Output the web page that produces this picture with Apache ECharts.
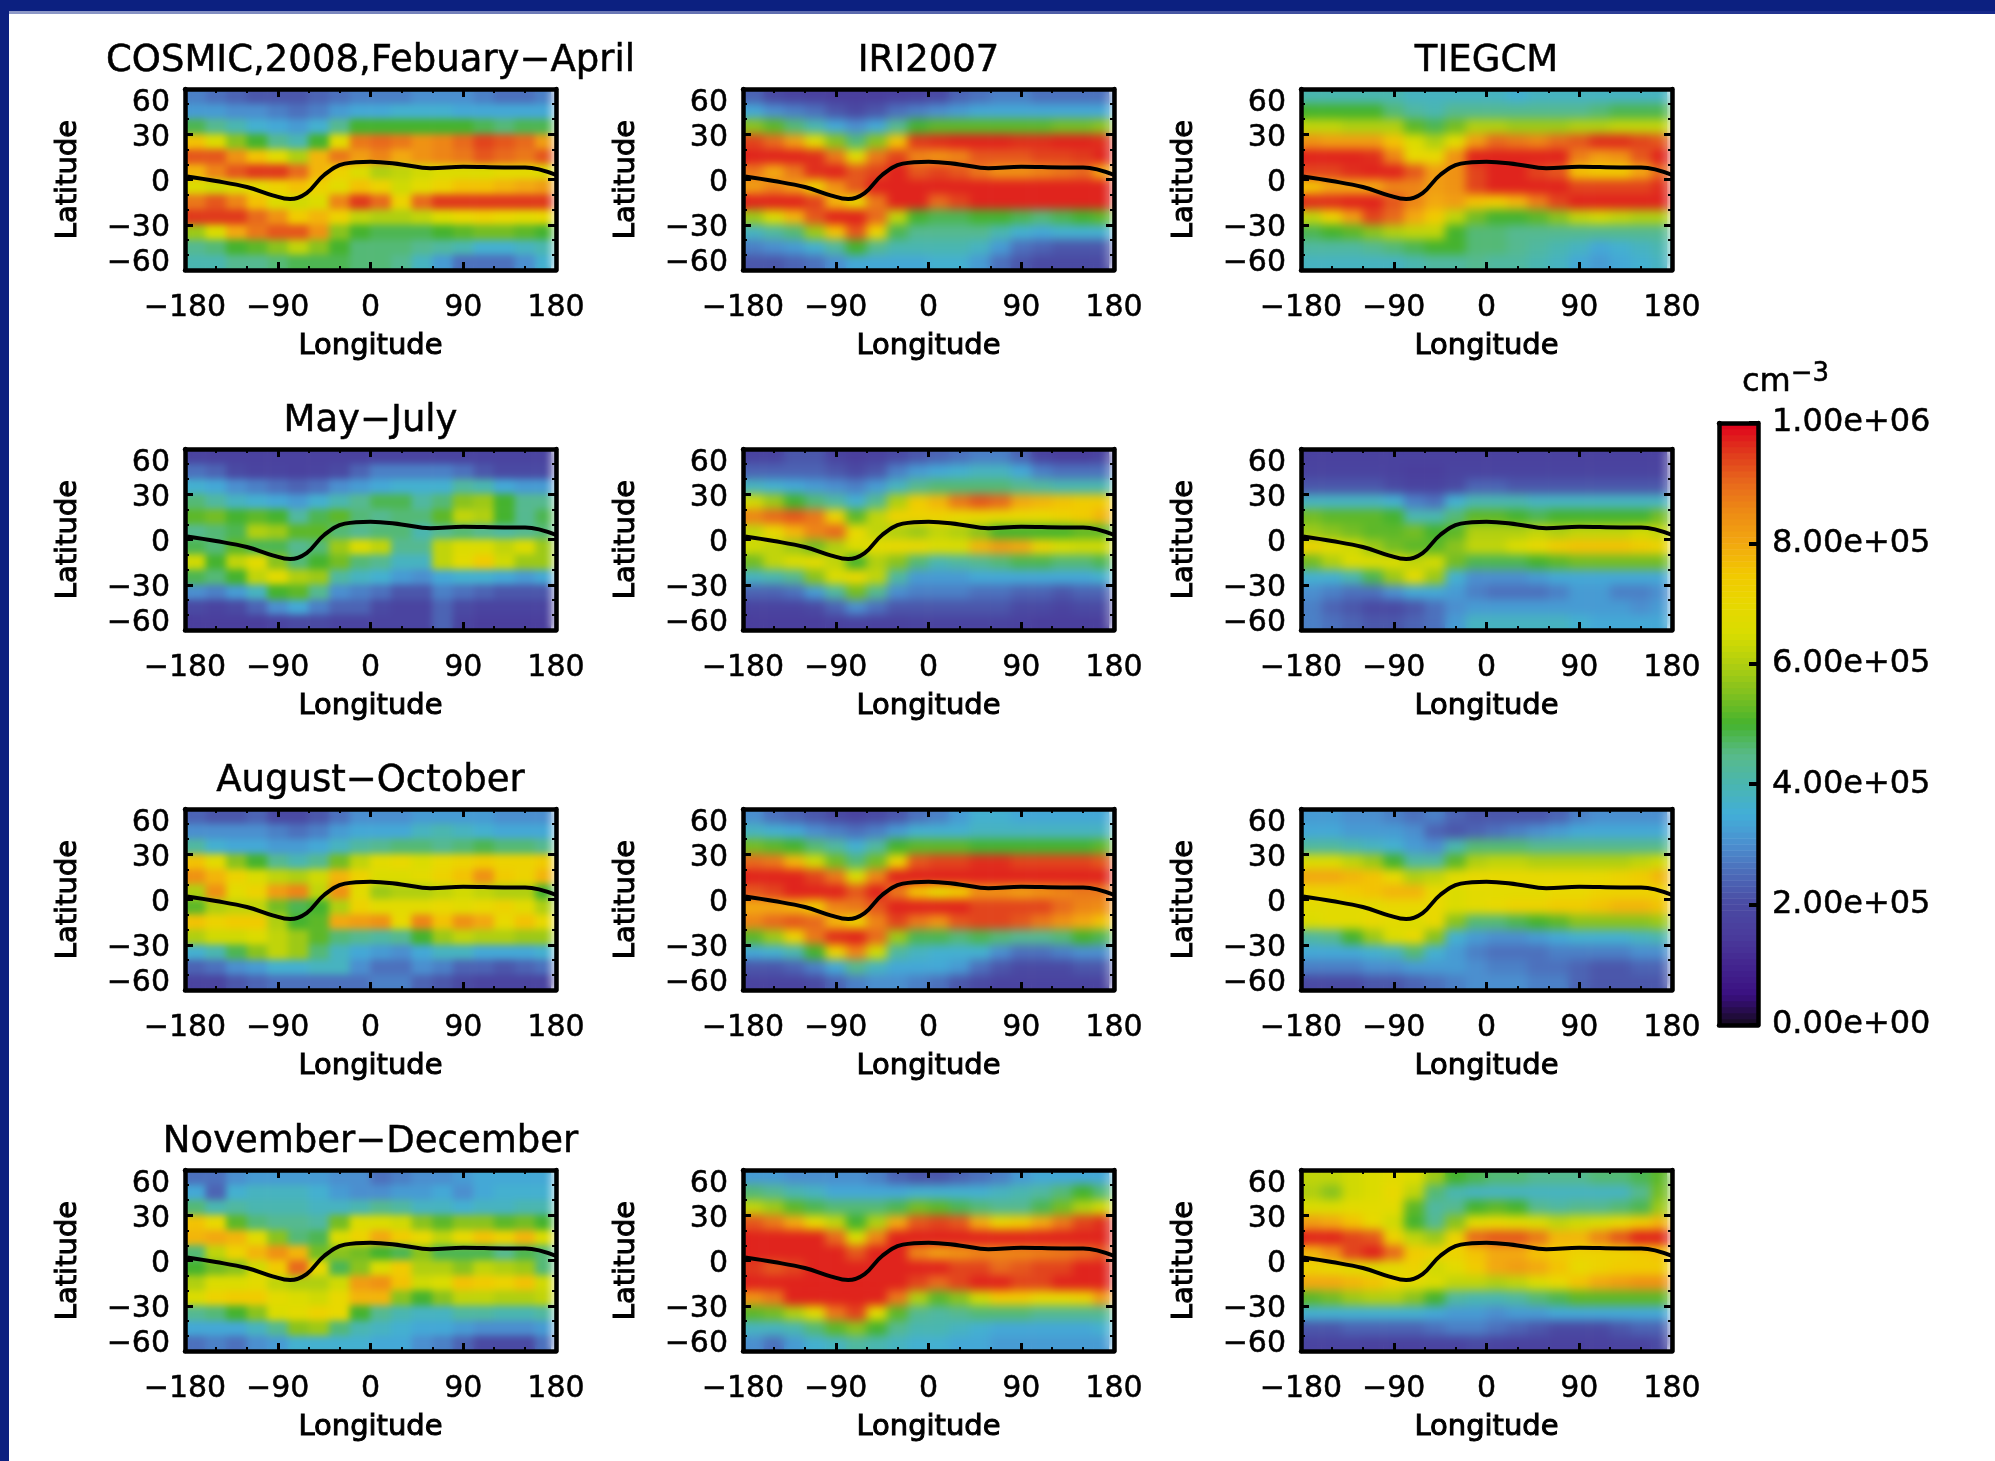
<!DOCTYPE html>
<html><head><meta charset="utf-8">
<style>html,body{margin:0;padding:0;background:#fff}#c{width:1995px;height:1461px}</style>
<script src="https://cdn.jsdelivr.net/npm/echarts@6/dist/echarts.min.js"></script>
</head><body><div id="c"></div>
<script>
// Electron density in units of 1e4 cm^-3. Rows run from lat 55 to lat -55, columns from lon -170 to 170.
const longitudes = [-170,-150,-130,-110,-90,-70,-50,-30,-10,10,30,50,70,90,110,130,150,170];
const latitudes = [55,45,35,25,15,5,-5,-15,-25,-35,-45,-55];
const colorbarLabels = ['0.00e+00','2.00e+05','4.00e+05','6.00e+05','8.00e+05','1.00e+06'];
const columnTitles = ['','IRI2007','TIEGCM'];
const rowTitles = ['COSMIC,2008,Febuary\u2212April','May\u2212July','August\u2212October','November\u2212December'];

const dipLon = [-178,-150,-120,-95,-78,-62,-45,-25,0,30,58,90,130,150,180];
const dipLat = [2,-1,-5,-10.5,-13,-9,3,10.5,11.8,10,7.5,8.5,8,8,3];

const cosmicFeb = [
[28,26,24,22,22,22,24,26,28,28,28,30,30,30,28,26,26,28],
[32,32,30,30,28,26,28,32,34,34,36,36,36,34,34,34,34,34],
[48,44,40,36,34,32,36,44,50,50,50,50,50,50,48,46,48,48],
[76,66,56,50,44,40,50,68,88,90,88,84,86,90,94,92,90,82],
[92,92,84,76,68,60,78,88,82,86,80,84,86,88,92,90,88,92],
[78,86,92,95,95,90,78,72,66,60,62,64,66,66,66,68,68,66],
[66,64,66,68,72,76,72,68,76,72,64,68,72,76,76,78,80,82],
[88,92,86,76,66,64,66,86,95,90,72,90,95,95,95,95,95,95],
[95,95,95,90,84,74,78,72,62,60,60,62,66,70,72,70,68,70],
[58,66,80,88,92,92,84,56,50,48,48,48,50,52,54,54,52,50],
[44,46,50,52,56,62,56,50,46,46,46,44,42,40,36,36,38,40],
[40,40,44,44,46,48,48,48,46,46,44,38,32,26,26,26,30,36]];
const iriFeb = [
[24,20,18,17,16,16,16,17,18,20,24,26,28,28,26,26,26,26],
[34,30,28,26,22,20,22,26,28,30,32,34,34,34,34,34,34,34],
[56,52,46,40,34,30,34,44,50,52,52,52,52,52,52,54,54,56],
[94,90,82,68,56,46,56,76,95,96,97,97,97,96,96,97,97,96],
[97,97,97,96,88,68,88,94,86,84,86,92,92,92,94,94,95,97],
[88,80,88,96,97,92,94,97,92,94,92,88,84,84,86,88,90,80],
[82,86,82,72,84,92,97,97,97,97,97,97,97,97,97,97,97,97],
[97,97,97,94,78,70,88,97,97,90,94,97,97,97,97,97,97,97],
[58,66,78,92,97,97,90,62,50,48,48,50,50,48,46,48,50,52],
[38,42,46,58,76,92,72,48,44,44,44,44,40,36,34,36,36,36],
[28,30,32,36,42,50,44,40,40,40,40,38,32,26,24,22,22,22],
[22,22,24,26,30,34,34,34,34,36,36,32,26,22,20,20,20,20]];
const tiegcmFeb = [
[40,40,40,40,40,38,38,38,38,38,36,38,38,38,38,38,38,38],
[50,50,50,50,46,42,40,44,44,44,44,44,44,44,46,48,48,48],
[62,62,60,60,60,52,48,54,60,60,58,58,58,60,60,62,62,62],
[84,82,82,82,76,66,60,68,82,90,88,86,90,92,96,96,94,92],
[97,97,97,96,86,70,70,84,97,97,97,97,97,87,82,84,92,97],
[94,94,96,97,97,92,82,84,94,97,97,94,92,76,74,74,80,90],
[76,80,80,80,86,86,82,84,94,97,97,97,97,94,94,94,94,96],
[96,96,97,97,92,86,80,82,76,74,78,87,94,97,97,97,97,97],
[62,72,82,94,90,80,74,62,54,50,50,52,56,62,64,62,60,60],
[48,50,52,56,60,62,62,50,46,46,44,44,44,44,44,44,44,44],
[42,42,42,44,46,48,50,50,46,46,44,42,40,38,34,36,38,40],
[38,38,38,38,38,40,42,42,44,42,42,40,38,34,32,34,36,38]];
const cosmicMay = [
[18,17,17,17,17,17,17,17,17,18,18,18,18,18,18,18,18,18],
[26,24,20,18,18,17,18,20,24,28,28,28,28,26,22,20,20,20],
[36,34,30,28,26,24,26,30,32,34,36,36,36,42,40,34,32,32],
[46,42,38,36,34,32,36,40,44,48,48,42,46,56,58,50,44,44],
[52,54,50,52,50,42,48,52,46,44,46,46,52,62,60,50,44,48],
[44,46,48,60,58,52,52,46,44,46,46,40,44,46,44,42,44,46],
[48,46,52,48,48,44,46,58,66,62,44,44,62,66,66,62,66,58],
[64,50,62,68,56,46,50,54,46,44,38,38,62,68,74,64,58,58],
[48,46,50,62,68,60,58,42,38,36,32,30,34,36,36,34,32,34],
[30,28,32,38,50,52,44,30,28,26,22,22,28,26,24,22,22,22],
[20,18,20,24,30,34,28,24,24,20,18,18,24,20,18,18,18,18],
[16,16,16,16,18,20,20,18,18,18,18,18,24,18,16,16,16,16]];
const iriMay = [
[18,18,22,22,18,16,17,20,22,24,26,28,28,24,18,16,16,18],
[24,24,24,24,22,20,22,28,32,34,36,38,38,34,28,26,26,26],
[38,36,34,32,30,28,32,38,44,46,46,46,46,44,42,40,40,40],
[64,58,50,46,42,36,44,60,74,78,88,92,90,80,78,76,74,74],
[86,90,92,88,72,52,62,72,72,72,70,70,70,70,70,72,74,78],
[62,70,78,86,90,70,62,60,58,62,60,56,50,50,50,50,52,52],
[64,62,58,54,60,66,68,70,70,66,66,78,82,80,72,66,64,64],
[54,62,66,68,62,50,60,56,46,40,42,44,46,48,48,46,46,48],
[38,40,44,56,66,70,62,42,32,32,32,34,34,34,34,34,34,36],
[24,24,26,32,42,54,44,30,28,28,28,26,26,24,24,22,24,24],
[18,18,18,20,24,30,26,22,22,22,22,22,22,20,20,18,20,20],
[16,16,16,16,17,18,17,17,18,18,18,18,18,17,16,16,16,16]];
const tiegcmMay = [
[17,17,17,17,17,17,17,17,17,17,17,17,17,17,17,17,17,17],
[18,18,18,18,17,16,16,18,18,18,18,18,18,18,18,18,18,18],
[22,22,22,22,20,18,18,20,24,24,22,22,22,22,22,22,22,22],
[38,38,38,38,36,28,26,36,40,40,40,38,38,38,38,38,38,38],
[54,52,52,52,50,40,40,46,52,52,50,48,50,50,50,50,50,54],
[58,56,54,52,52,54,50,52,60,60,60,62,60,62,62,62,64,62],
[72,68,64,58,54,52,52,56,62,62,66,70,74,76,76,76,74,72],
[54,60,66,66,66,62,64,54,48,48,48,50,52,54,54,54,54,54],
[36,36,40,48,58,68,58,36,30,30,30,32,34,34,34,34,34,34],
[30,28,26,26,30,34,34,32,28,26,26,26,28,32,32,28,28,30],
[28,24,22,20,20,22,26,30,32,32,32,32,32,32,32,32,30,32],
[28,26,24,22,22,24,26,32,38,38,38,38,38,36,34,34,34,34]];
const cosmicAug = [
[24,22,22,24,20,20,22,26,30,30,30,32,32,32,32,30,30,30],
[30,30,30,30,28,26,28,32,34,34,34,38,40,38,36,34,34,34],
[42,36,34,34,32,32,34,38,42,44,46,46,44,46,48,46,46,44],
[76,68,56,50,44,40,44,54,62,68,70,66,70,72,74,72,72,74],
[84,78,72,66,62,60,64,78,72,66,66,68,72,76,84,74,72,78],
[60,84,68,72,82,86,62,84,68,58,60,60,62,64,62,60,60,50],
[52,60,62,62,54,48,50,60,72,68,68,68,70,68,70,72,68,60],
[76,72,74,74,60,50,52,80,82,84,70,86,76,84,80,70,76,70],
[60,64,64,66,62,58,52,46,44,42,44,50,58,62,60,60,58,58],
[36,40,48,56,62,58,46,38,34,32,30,34,38,38,34,34,34,36],
[24,26,30,32,36,36,38,38,30,26,26,30,28,24,24,22,24,26],
[18,18,22,24,26,26,26,26,26,28,28,24,22,20,18,18,18,18]];
const iriAug = [
[30,26,24,22,20,18,20,22,26,28,32,36,36,34,34,34,34,34],
[38,36,34,30,28,26,28,32,36,36,36,38,38,38,38,38,38,38],
[54,52,50,46,42,36,42,50,52,52,52,50,50,50,50,50,50,52],
[90,88,78,64,54,46,54,72,92,94,94,96,96,94,94,94,94,92],
[97,97,97,94,88,66,86,97,97,97,97,97,97,97,97,97,97,97],
[92,94,97,97,97,92,97,88,76,70,74,84,84,82,84,86,88,88],
[80,80,78,74,86,88,92,97,97,97,97,94,94,94,94,90,86,85],
[86,90,92,90,78,72,86,94,88,84,92,94,94,92,88,84,80,76],
[52,58,72,88,96,97,90,58,48,48,46,48,46,44,44,46,50,48],
[34,36,40,50,72,86,64,42,38,36,36,36,30,26,26,28,30,30],
[22,22,24,28,34,44,38,34,34,34,32,26,22,20,20,20,22,22],
[18,18,18,20,24,28,30,30,28,26,22,20,18,18,18,18,18,18]];
const tiegcmAug = [
[32,32,30,30,28,26,28,24,22,22,22,22,24,28,30,30,30,30],
[34,34,32,32,32,30,24,22,24,26,28,30,32,34,34,34,34,34],
[42,42,40,38,36,32,30,40,46,46,46,44,44,44,44,44,44,44],
[66,66,62,58,50,42,42,52,60,62,62,60,60,60,60,60,62,64],
[80,80,78,76,70,60,62,68,70,70,70,70,70,70,70,72,74,78],
[72,72,74,76,78,78,70,66,68,68,68,68,70,70,72,72,72,72],
[68,68,68,68,70,70,70,66,68,70,72,72,74,74,76,78,78,76],
[66,68,68,70,68,66,70,56,46,46,48,50,52,56,56,56,56,58],
[42,44,50,58,66,70,56,36,32,30,30,32,34,36,36,36,38,40],
[34,34,34,36,38,46,36,32,28,26,26,26,28,28,28,28,30,30],
[28,28,28,30,30,32,32,32,30,28,28,26,26,24,22,22,24,24],
[20,20,20,22,22,24,26,28,30,30,30,28,28,24,22,22,22,22]];
const cosmicNov = [
[26,26,30,32,32,32,32,30,30,26,28,30,30,32,34,34,34,34],
[34,24,36,38,38,38,36,32,30,30,32,32,34,30,34,36,36,36],
[46,40,42,40,40,40,38,38,40,44,42,38,38,36,38,38,40,40],
[76,70,52,46,44,44,42,54,66,66,64,56,52,56,56,52,54,50],
[78,80,78,68,56,46,48,66,72,80,74,70,62,70,76,72,78,66],
[46,62,72,78,84,78,54,56,54,50,48,56,48,48,48,44,48,46],
[50,54,56,64,74,90,70,48,56,66,74,60,60,56,62,60,58,46],
[60,66,66,68,62,60,60,64,82,84,76,64,66,76,74,72,76,64],
[66,72,74,74,68,66,64,70,78,78,56,50,56,62,62,60,60,62],
[44,46,50,56,66,68,72,70,50,44,40,38,38,42,42,40,40,42],
[34,34,34,38,44,56,58,46,40,38,36,34,34,32,30,30,30,32],
[26,28,26,30,32,36,36,36,36,34,34,30,28,24,20,20,20,26]];
const iriNov = [
[32,32,30,30,30,30,28,24,22,22,24,26,28,32,34,34,34,34],
[46,44,40,38,34,34,34,34,36,36,36,36,38,40,42,46,50,46],
[62,58,52,48,46,46,46,48,54,52,48,46,44,44,48,54,60,64],
[92,88,80,70,62,50,60,80,92,94,92,80,72,74,80,88,94,96],
[97,97,97,97,90,66,86,97,97,97,97,97,97,97,97,97,97,97],
[97,97,97,97,97,92,97,97,86,82,84,86,86,86,87,88,90,92],
[95,92,94,97,97,97,97,97,97,97,94,94,90,92,94,94,97,97],
[97,97,97,97,97,97,97,97,94,90,94,97,97,94,94,97,97,97],
[84,88,97,97,97,97,97,88,60,52,56,64,74,74,70,70,72,82],
[52,54,60,68,88,94,68,52,44,42,44,46,46,46,44,44,44,44],
[38,38,40,46,52,56,50,44,40,40,38,36,34,34,34,34,34,36],
[30,26,32,36,38,42,40,38,36,36,34,34,32,32,32,32,32,32]];
const tiegcmNov = [
[62,62,64,66,68,66,58,50,48,46,46,44,44,44,46,46,48,52],
[60,56,64,66,70,62,46,40,38,38,38,38,38,38,38,38,44,54],
[66,66,68,68,68,52,42,44,50,52,50,44,42,44,44,46,48,58],
[82,80,76,70,64,50,44,56,68,70,68,66,62,64,66,70,74,78],
[97,97,94,92,72,62,58,72,90,92,92,88,78,78,86,92,97,97],
[78,84,94,97,90,74,72,72,76,80,80,76,74,72,72,72,74,76],
[72,70,68,66,68,72,64,68,74,80,82,80,76,70,72,74,74,74],
[80,80,78,76,72,68,66,62,62,60,62,66,70,76,80,82,84,84],
[52,54,58,60,60,56,50,42,40,40,42,46,48,52,52,52,52,52],
[36,36,36,36,36,36,34,32,32,30,32,32,34,34,34,34,34,34],
[22,22,24,24,24,24,26,28,28,26,24,22,20,20,20,22,24,24],
[18,18,18,17,17,17,18,18,20,18,17,17,17,17,17,18,18,20]];

const panels = [[cosmicFeb,iriFeb,tiegcmFeb],[cosmicMay,iriMay,tiegcmMay],[cosmicAug,iriAug,tiegcmAug],[cosmicNov,iriNov,tiegcmNov]];

// Colour scale, one stop per 0.5e5 from 0 to 1e6
const scaleColors = ['#150a1e','#3a1080','#43258f','#4a3c9c','#4a4aa3','#4c6ab8','#4b8fcf','#42aed8','#4ab6b0','#58ba88','#45b32e','#80c020','#b0cf10','#d8dc00','#e8d800','#f2c800','#f2a810','#ee8c14','#e86a1c','#e03a1c','#e0001c'];
const colorbarLevels = [];
for (let v = 0; v < 100; v++) colorbarLevels.push(v);

const FONT = '"DejaVu Sans"';
const colLeft = [185, 743, 1301], plotW = 371, rowTop = [89, 449, 809, 1170], plotH = 181;
const bar = {left: 1719, top: 423, width: 39, height: 602};
const grids = [], xAxes = [], yAxes = [], series = [], titles = [];
const inkThin = {textBorderColor: '#000', textBorderWidth: 0.5};
const inkBold = {textBorderColor: '#000', textBorderWidth: 1};
const tickText = v => String(v).replace('-', '\u2212');

function frameAxis(extra) {
  return Object.assign({
    type: 'value', axisLine: {onZero: false, lineStyle: {color: '#000', width: 4.5}},
    axisTick: {inside: true, length: 8, lineStyle: {color: '#000', width: 3}},
    minorTick: {show: true, splitNumber: 3, length: 4, lineStyle: {color: '#000', width: 2}},
    splitLine: {show: false}, minorSplitLine: {show: false}, zlevel: 1, z: 6
  }, extra);
}
panels.forEach((row, r) => row.forEach((values, c) => {
  const g = grids.length;
  grids.push({left: colLeft[c], top: rowTop[r], width: plotW, height: plotH, show: false});
  const xi = xAxes.length, yi = yAxes.length;
  xAxes.push({gridIndex: g, type: 'category', data: longitudes, show: false, position: 'bottom'});
  yAxes.push({gridIndex: g, type: 'category', data: latitudes, inverse: true, show: false, position: 'left'});
  const xRange = {gridIndex: g, min: -180, max: 180, interval: 90};
  const yRange = {gridIndex: g, min: -60, max: 60, interval: 30};
  xAxes.push(frameAxis(Object.assign({position: 'bottom', name: 'Longitude', nameLocation: 'middle', nameGap: 62,
    nameTextStyle: Object.assign({fontFamily: FONT, fontSize: 29, color: '#000'}, inkBold),
    axisLabel: Object.assign({show: true, margin: 23, fontFamily: FONT, fontSize: 30, color: '#000', hideOverlap: false, showMinLabel: true, showMaxLabel: true,
      formatter: tickText}, inkThin)}, xRange)));
  xAxes.push(frameAxis(Object.assign({position: 'top', axisLabel: {show: false}}, xRange)));
  yAxes.push(frameAxis(Object.assign({position: 'left', name: 'Latitude', nameLocation: 'middle', nameGap: 102, nameRotate: 90,
    nameTextStyle: Object.assign({fontFamily: FONT, fontSize: 29, color: '#000'}, inkBold),
    axisLabel: {show: true, margin: 15, hideOverlap: false, showMinLabel: true, showMaxLabel: true,
      formatter: v => (v === 60 ? '{hi|' : v === -60 ? '{lo|' : '{mid|') + tickText(v) + '}',
      rich: {
        hi: Object.assign({fontFamily: FONT, fontSize: 30, color: '#000', padding: [29, 0, 0, 0]}, inkThin),
        lo: Object.assign({fontFamily: FONT, fontSize: 30, color: '#000', padding: [0, 0, 14, 0]}, inkThin),
        mid: Object.assign({fontFamily: FONT, fontSize: 30, color: '#000', padding: [7, 0, 0, 0]}, inkThin)
      }}}, yRange)));
  yAxes.push(frameAxis(Object.assign({position: 'right', axisLabel: {show: false}}, yRange)));
  const cells = [];
  values.forEach((line, j) => line.forEach((v, i) => cells.push([i, j, v])));
  series.push({type: 'heatmap', xAxisIndex: xi, yAxisIndex: yi, data: cells, zlevel: 0, progressive: 0, silent: true,
    itemStyle: {borderWidth: 0}, emphasis: {disabled: true}});
  series.push({type: 'line', xAxisIndex: xi + 1, yAxisIndex: yi + 1, data: dipLon.map((x, i) => [x, dipLat[i]]),
    smooth: 0.4, showSymbol: false, silent: true, zlevel: 1, z: 5, clip: false,
    lineStyle: {color: '#000', width: 4},
    markLine: {silent: true, symbol: 'none', label: {show: false}, animation: false,
      lineStyle: {color: '#fff', width: 3, type: 'solid', opacity: 1}, data: [{xAxis: 176.5}]}});
}));
const titleStyle = Object.assign({fontFamily: FONT, fontWeight: 'normal', fontSize: 37, color: '#000'}, inkThin);
[1, 2].forEach(c => titles.push({text: columnTitles[c], left: colLeft[c] + plotW / 2, top: 43, textAlign: 'center', zlevel: 1,
  padding: 0, textStyle: titleStyle}));
rowTitles.forEach((t, r) => titles.push({text: t, left: colLeft[0] + plotW / 2, top: rowTop[r] - 46, textAlign: 'center', zlevel: 1,
  padding: 0, textStyle: titleStyle}));
titles.push({text: 'cm{s|\u22123}', left: 1742, top: 361, padding: 0, zlevel: 1,
  textStyle: Object.assign({fontFamily: FONT, fontWeight: 'normal', fontSize: 32, color: '#000',
    rich: {s: Object.assign({fontFamily: FONT, fontSize: 26, color: '#000', padding: [0, 0, 18, 0]}, inkThin)}}, inkThin)});

// colour bar
const barG = grids.length;
grids.push(Object.assign({show: false}, bar));
const barXi = xAxes.length, barYi = yAxes.length;
xAxes.push({gridIndex: barG, type: 'category', data: ['cm-3'], show: false});
yAxes.push({gridIndex: barG, type: 'category', data: colorbarLevels, show: false, position: 'left'});
xAxes.push(frameAxis({gridIndex: barG, position: 'top', min: 0, max: 1, axisLabel: {show: false}, axisTick: {show: false}, minorTick: {show: false}}));
xAxes.push(frameAxis({gridIndex: barG, position: 'bottom', min: 0, max: 1, axisLabel: {show: false}, axisTick: {show: false}, minorTick: {show: false}}));
yAxes.push(frameAxis({gridIndex: barG, position: 'left', min: 0, max: 100, interval: 20, axisLabel: {show: false}, axisTick: {show: false}, minorTick: {show: false}}));
yAxes.push(frameAxis({gridIndex: barG, position: 'right', min: 0, max: 100, interval: 20, minorTick: {show: false},
  axisTick: {inside: true, length: 9, lineStyle: {color: '#000', width: 4}},
  axisLabel: Object.assign({show: true, margin: 14, fontFamily: FONT, fontSize: 32, color: '#000', hideOverlap: false, showMinLabel: true, showMaxLabel: true,
    padding: [0, 0, 14, 0], formatter: v => colorbarLabels[v / 20]}, inkThin)}));
series.push({type: 'heatmap', xAxisIndex: barXi, yAxisIndex: barYi, data: colorbarLevels.map((v, i) => [0, i, v + 0.5]), zlevel: 0, progressive: 0, silent: true,
  itemStyle: {borderWidth: 0}, emphasis: {disabled: true}});

const heatIdx = series.map((s, i) => s.type === 'heatmap' ? i : -1).filter(i => i >= 0);
const chart = echarts.init(document.getElementById('c'), null, {renderer: 'canvas'});
chart.setOption({
  animation: false, backgroundColor: '#fff', tooltip: {show: false},
  title: titles, grid: grids, xAxis: xAxes, yAxis: yAxes, series,
  visualMap: {show: false, type: 'continuous', min: 0, max: 100, dimension: 2, seriesIndex: heatIdx, inRange: {color: scaleColors}},
  graphic: [
    {type: 'rect', zlevel: 1, shape: {x: 0, y: 0, width: 1995, height: 11}, style: {fill: '#0c2080'}},
    {type: 'rect', zlevel: 1, shape: {x: 0, y: 11, width: 1995, height: 3},
      style: {fill: new echarts.graphic.LinearGradient(0, 0, 1, 0, [{offset: 0, color: '#8f9ac8'}, {offset: 1, color: '#16288a'}])}},
    {type: 'rect', zlevel: 1, shape: {x: 0, y: 0, width: 9, height: 1461}, style: {fill: '#0c2080'}}
  ]
});
// Soften the cell edges of the panels, as in the contoured reference.
const base = document.querySelector('#c canvas');
panels.forEach((row, r) => row.forEach((_, c) => {
  const d = document.createElement('div');
  const blur = c === 0 ? 3.5 : 5;
  d.style.cssText = `position:absolute;left:${colLeft[c]}px;top:${rowTop[r]}px;width:${plotW}px;height:${plotH}px;` +
    `backdrop-filter:blur(${blur}px);-webkit-backdrop-filter:blur(${blur}px);pointer-events:none;`;
  base.after(d);
}));
</script></body></html>
